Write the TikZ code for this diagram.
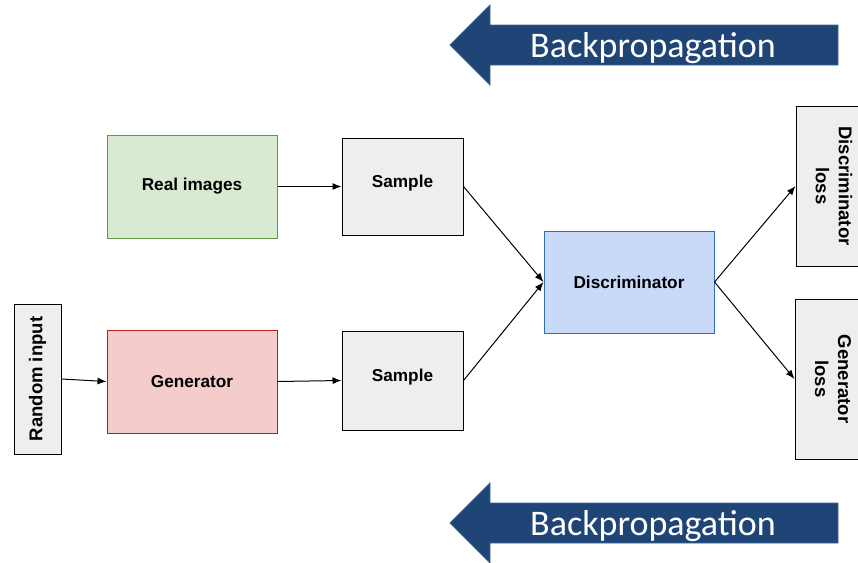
\documentclass[tikz,border=0pt]{standalone}
\usepackage{fontspec}
\setmainfont{Liberation Sans}
\newfontfamily\backfont{Carlito}
\usetikzlibrary{arrows.meta}

\definecolor{realfill}{HTML}{D9EAD3}
\definecolor{realline}{HTML}{5E9A45}
\definecolor{genfill}{HTML}{F4CCCC}
\definecolor{genline}{HTML}{B41E1E}
\definecolor{discfill}{HTML}{C9DAF8}
\definecolor{discline}{HTML}{2F6DB5}
\definecolor{grayfill}{HTML}{EEEEEE}
\definecolor{backfill}{HTML}{1F4577}
\definecolor{backline}{HTML}{3A6593}

\tikzset{
  box/.style={draw=black,fill=grayfill,line width=1pt,inner sep=0pt,
    align=center,font=\fontsize{17.2}{20}\selectfont\bfseries},
  sidebox/.style={box,font=\fontsize{18.5}{23}\selectfont\bfseries},
  conn/.style={line width=1pt,-{Latex[length=9pt,width=7pt]}},
  backarrow/.style={fill=backfill,draw=backline,line width=0.8pt}
}

\begin{document}
\begin{tikzpicture}[x=1pt,y=-1pt]
        \useasboundingbox (0,0) rectangle (858,562);
        \clip (0,0) rectangle (858,562);

        % backpropagation arrows
        \draw[backarrow] (450,45) -- (490,5) -- (490,25) -- (838,25) -- (838,65) -- (490,65) -- (490,85) -- cycle;
        \node[text=white,font=\backfont\fontsize{36}{42}\selectfont] (backtop) at (653,48) {Backpropagation};
        \draw[backarrow] (450,523) -- (490,483) -- (490,503) -- (838,503) -- (838,543) -- (490,543) -- (490,563) -- cycle;
        \node[text=white,font=\backfont\fontsize{36}{42}\selectfont] (backbot) at (653,526) {Backpropagation};

        % boxes
        \node[box,fill=realfill,draw=realline,minimum width=170,minimum height=103] (real) at (192,186.5) {Real images};
        \node[box,minimum width=121,minimum height=97,text height=12pt,text depth=10pt] (samp1) at (402.5,186.5) {Sample};
        \node[sidebox,rotate=90,minimum width=150,minimum height=47] (rand) at (37.5,379) {Random input};
        \node[box,fill=genfill,draw=genline,minimum width=170,minimum height=103] (gen) at (192,381.5) {Generator};
        \node[box,minimum width=121,minimum height=99,text height=12pt,text depth=10pt] (samp2) at (402.5,380.5) {Sample};
        \node[box,fill=discfill,draw=discline,minimum width=170,minimum height=102] (disc) at (629,282) {Discriminator};
        \node[sidebox,rotate=-90,minimum width=160,minimum height=76] (dloss) at (834,186) {Discriminator\\loss};
        \node[sidebox,rotate=-90,minimum width=160,minimum height=76] (gloss) at (833,379) {Generator\\loss};

        % connectors
        \draw[conn] (real) -- (samp1);
        \draw[conn] (rand.south) -- (gen.west);
        \draw[conn] (gen.east) -- (samp2.west);
        \draw[conn] (samp1.east) -- (disc.west);
        \draw[conn] (samp2.east) -- (disc.west);
        \draw[conn] (disc.east) -- (dloss.south);
        \draw[conn] (disc.east) -- (gloss.south);
\end{tikzpicture}
\end{document}
